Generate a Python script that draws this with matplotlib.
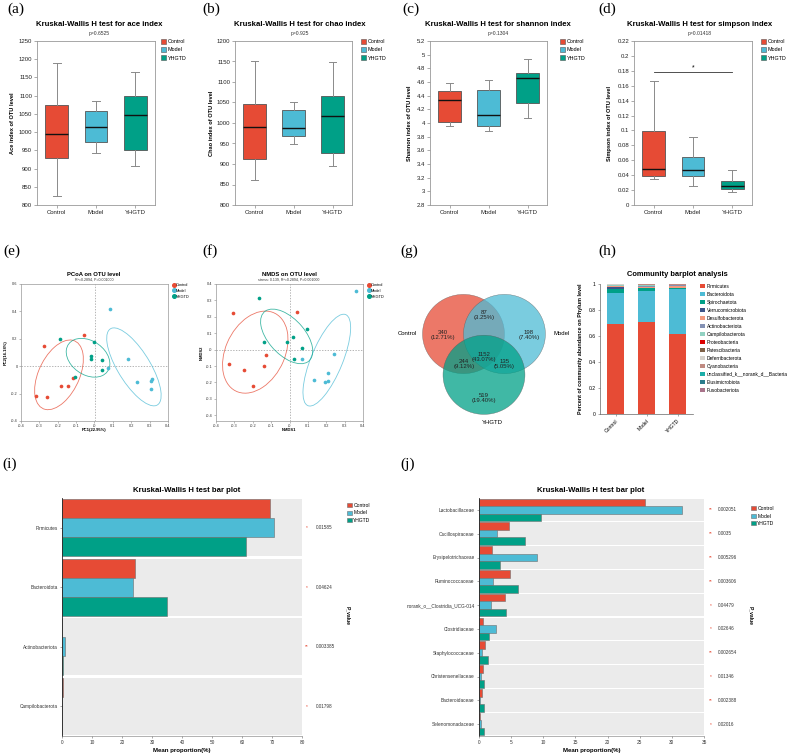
import numpy as np
import matplotlib.pyplot as plt
from matplotlib.patches import Ellipse, Patch
from matplotlib.lines import Line2D
from matplotlib.ticker import FuncFormatter

plt.rcParams['font.family'] = ['Liberation Sans', 'DejaVu Sans']

# ---------------- data ----------------
groups = ['Control', 'Model', 'YHGTD']
colors = ['#E64B35', '#4DBBD5', '#00A087']

# alpha diversity boxes: whislo, q1, median, q3, whishi
ace = [[825, 929, 994, 1074, 1190], [943, 972, 1013, 1057, 1084], [907, 950, 1046, 1098, 1165]]
chao = [[860, 912, 991, 1047, 1150], [949, 968, 987, 1031, 1052], [896, 928, 1018, 1067, 1149]]
shannon = [[3.96, 4.02, 4.34, 4.47, 4.58], [3.89, 3.96, 4.11, 4.48, 4.63], [4.08, 4.30, 4.66, 4.73, 4.93]]
simpson = [[0.0353, 0.0384, 0.0487, 0.0998, 0.167], [0.0258, 0.0389, 0.0474, 0.0649, 0.0918],
           [0.017, 0.0214, 0.0258, 0.0326, 0.0469]]
alpha_p = [0.6525, 0.925, 0.1304, 0.01418]
alpha_names = ['ace', 'chao', 'shannon', 'simpson']

# PCoA scores
pcoa_control_x = [-0.274, -0.058, -0.318, -0.256, -0.184, -0.144, -0.119]
pcoa_control_y = [0.146, 0.230, -0.215, -0.222, -0.148, -0.146, -0.086]
pcoa_model_x = [0.083, 0.184, 0.074, 0.233, 0.307, 0.314, 0.307]
pcoa_model_y = [0.420, 0.049, -0.015, -0.116, -0.111, -0.096, -0.165]
pcoa_yhgtd_x = [-0.186, -0.002, -0.018, -0.018, 0.043, 0.043, -0.108]
pcoa_yhgtd_y = [0.198, 0.175, 0.072, 0.049, 0.044, -0.030, -0.077]

# NMDS scores
nmds_control_x = [-0.306, 0.040, -0.327, -0.245, -0.128, -0.140, -0.198]
nmds_control_y = [0.226, 0.232, -0.087, -0.123, -0.034, -0.099, -0.222]
nmds_model_x = [0.363, 0.070, 0.243, 0.209, 0.133, 0.191, 0.212]
nmds_model_y = [0.356, -0.057, -0.028, -0.145, -0.188, -0.196, -0.190]
nmds_yhgtd_x = [-0.167, -0.137, -0.011, 0.018, 0.097, 0.067, 0.025]
nmds_yhgtd_y = [0.315, 0.048, 0.044, 0.075, 0.125, 0.012, -0.055]

# Venn counts: C only, M only, Y only, C&M, C&Y, M&Y, all
venn_counts = {'C': 340, 'M': 198, 'Y': 519, 'CM': 87, 'CY': 244, 'MY': 135, 'CMY': 1152}

# community barplot (phylum relative abundance)
phyla = ['Firmicutes', 'Bacteroidota', 'Spirochaetota', 'Verrucomicrobiota', 'Desulfobacterota',
         'Actinobacteriota', 'Campilobacterota', 'Proteobacteria', 'Patescibacteria', 'Deferribacterota',
         'Cyanobacteria', 'unclassified_k__norank_d__Bacteria', 'Elusimicrobiota', 'Fusobacteriota']
phylum_control = [0.690, 0.243, 0.025, 0.020, 0.007, 0.003, 0.003, 0.003, 0.002, 0.001, 0.001, 0.001, 0.0005, 0.0005]
phylum_model = [0.705, 0.238, 0.025, 0.004, 0.005, 0.011, 0.001, 0.003, 0.002, 0.002, 0.002, 0.001, 0.0005, 0.0005]
phylum_yhgtd = [0.613, 0.349, 0.005, 0.006, 0.012, 0.005, 0.0005, 0.002, 0.002, 0.001, 0.003, 0.001, 0.0005, 0.0005]
phylum_colors = ['#E64B35', '#4DBBD5', '#00A087', '#3C5488', '#F39B7F', '#8491B4', '#91D1C2', '#DC0000',
                 '#7E6148', '#D6D2CC', '#C08B82', '#1BADA8', '#2A7C8C', '#A8738A']

# Kruskal-Wallis bar plot, phylum level
kw_phyla = ['Firmicutes', 'Bacteroidota', 'Actinobacteriota', 'Campilobacterota']
kw_phyla_control = [69.2, 24.3, 0.1, 0.33]
kw_phyla_model = [70.75, 23.8, 1.1, 0.02]
kw_phyla_yhgtd = [61.3, 34.9, 0.45, 0.02]
kw_phyla_p = [0.01585, 0.04624, 0.003385, 0.01798]

# Kruskal-Wallis bar plot, family level
kw_fam = ['Lactobacillaceae', 'Oscillospiraceae', 'Erysipelotrichaceae', 'Ruminococcaceae',
          'norank_o__Clostridia_UCG-014', 'Clostridiaceae', 'Staphylococcaceae', 'Christensenellaceae',
          'Bacteroidaceae', 'Selenomonadaceae']
kw_fam_control = [25.8, 4.7, 2.0, 4.87, 4.0, 0.67, 0.98, 0.67, 0.52, 0.15]
kw_fam_model = [31.6, 2.75, 9.07, 2.18, 1.81, 2.7, 0.41, 0.26, 0.2, 0.3]
kw_fam_yhgtd = [9.6, 7.2, 3.27, 6.0, 4.25, 1.55, 1.45, 0.73, 0.83, 0.73]
kw_fam_p = [0.002051, 0.0035, 0.005296, 0.003606, 0.04479, 0.02646, 0.002654, 0.01346, 0.002388, 0.02016]

# ---------------- layout helpers ----------------
W, H = 792, 754
fig = plt.figure(figsize=(W / 100, H / 100), dpi=100)


def box(l, t, r, b):
    return [l / W, 1 - b / H, (r - l) / W, (b - t) / H]


def ftext(x, y, s, **kw):
    return fig.text(x / W, 1 - y / H, s, **kw)


gfmt = FuncFormatter(lambda v, p: '%g' % round(v, 4))

for lab, x, y in [('(a)', 7, 9), ('(b)', 202, 9), ('(c)', 402, 9), ('(d)', 598, 9),
                  ('(e)', 3, 251), ('(f)', 202, 251), ('(g)', 400, 251), ('(h)', 598, 251),
                  ('(i)', 2, 464), ('(j)', 400, 464)]:
    ftext(x, y, lab, family='Liberation Serif', fontsize=11, ha='left', va='center')


# ---------------- (a)-(d) alpha diversity ----------------
def alpha_box(rect, data, ylim, step, name, p, title_x, ylab_x, leg_x):
    ax = fig.add_axes(box(*rect))
    stats = [dict(whislo=d[0], q1=d[1], med=d[2], q3=d[3], whishi=d[4], fliers=[]) for d in data]
    bp = ax.bxp(stats, positions=range(3), widths=0.58, patch_artist=True, showfliers=False,
                capwidths=0.2,
                boxprops=dict(edgecolor='#555555', lw=0.6),
                medianprops=dict(color='#111111', lw=1.0),
                whiskerprops=dict(color='#8a8a8a', lw=0.7),
                capprops=dict(color='#8a8a8a', lw=0.7))
    for patch, c in zip(bp['boxes'], colors):
        patch.set_facecolor(c)
    ax.set_xlim(-0.5, 2.5)
    ax.set_ylim(*ylim)
    ax.set_yticks(np.arange(ylim[0], ylim[1] + step / 2, step))
    ax.yaxis.set_major_formatter(gfmt)
    ax.set_xticks(range(3))
    ax.set_xticklabels(groups)
    ax.tick_params(labelsize=4.3, length=2, width=0.5, color='#888888', pad=1.5, labelcolor='#222222')
    for s in ax.spines.values():
        s.set_color('#999999')
        s.set_linewidth(0.6)
    ftext(title_x, 25, 'Kruskal-Wallis H test for %s index' % name, fontsize=5.6, weight='bold',
          ha='center', va='center')
    ftext(title_x, 34, 'p=%s' % p, fontsize=3.6, ha='center', va='center', color='#333333')
    ftext(ylab_x, (rect[1] + rect[3]) / 2, '%s index of OTU level' % name.capitalize(), fontsize=4.1,
          weight='bold', rotation=90, ha='center', va='center')
    handles = [Patch(facecolor=c, edgecolor='#555555', lw=0.4) for c in colors]
    ax.legend(handles, groups, loc='upper left', bbox_to_anchor=(leg_x / W, 1 - 39 / H),
              bbox_transform=fig.transFigure, frameon=False, fontsize=3.9, handlelength=0.95,
              handleheight=0.95, handletextpad=0.3, labelspacing=0.55, borderaxespad=0, borderpad=0)
    return ax


alpha_box((37, 41, 155, 205), ace, (800, 1250), 50, 'ace', alpha_p[0], 99, 13, 161)
alpha_box((235, 41, 352, 205), chao, (800, 1200), 50, 'chao', alpha_p[1], 300, 211, 361)
alpha_box((430, 41, 547, 205), shannon, (2.8, 5.2), 0.2, 'shannon', alpha_p[2], 498, 410, 560)
ax_d = alpha_box((634, 41, 752, 205), simpson, (0, 0.22), 0.02, 'simpson', alpha_p[3], 700, 609, 761)
ax_d.plot([0, 2], [0.178, 0.178], color='#333333', lw=0.6)
ax_d.text(1, 0.179, '*', ha='center', va='bottom', fontsize=5)


# ---------------- (e)(f) ordination ----------------
def conf_ellipse(ax, x, y, color, scale=1.42):
    cov = np.cov(x, y)
    vals, vecs = np.linalg.eigh(cov)
    order = vals.argsort()[::-1]
    vals, vecs = vals[order], vecs[:, order]
    angle = np.degrees(np.arctan2(vecs[1, 0], vecs[0, 0]))
    w, h = 2 * scale * np.sqrt(vals)
    ax.add_patch(Ellipse((np.mean(x), np.mean(y)), w, h, angle=angle, fill=False, ec=color,
                         lw=0.6, alpha=0.75))


def ordination(rect, pts, ylim, ystep, title, sub, xlabel, ylabel, cx, leg_x, ylab_x):
    ax = fig.add_axes(box(*rect))
    ax.axhline(0, color='#999999', lw=0.5, ls=(0, (2, 2)), zorder=0)
    ax.axvline(0, color='#999999', lw=0.5, ls=(0, (2, 2)), zorder=0)
    for (x, y), c in zip(pts, colors):
        ax.scatter(x, y, s=7, color=c, lw=0, zorder=3)
        conf_ellipse(ax, x, y, c)
    ax.set_xlim(-0.4, 0.4)
    ax.set_xticks(np.arange(-0.4, 0.41, 0.1))
    ax.set_yticks(np.arange(-0.4, 0.61, ystep))
    ax.set_ylim(*ylim)
    ax.xaxis.set_major_formatter(gfmt)
    ax.yaxis.set_major_formatter(gfmt)
    ax.tick_params(labelsize=2.8, length=1.5, width=0.4, color='#888888', pad=1, labelcolor='#333333')
    for s in ax.spines.values():
        s.set_color('#999999')
        s.set_linewidth(0.5)
    ftext(cx, 274, title, fontsize=4.2, weight='bold', ha='center', va='center')
    ftext(cx, 280, sub, fontsize=2.6, ha='center', va='center', color='#333333')
    ftext(cx, 430, xlabel, fontsize=3.0, weight='bold', ha='center', va='center')
    ftext(ylab_x, (rect[1] + rect[3]) / 2, ylabel, fontsize=3.0, weight='bold', rotation=90,
          ha='center', va='center')
    handles = [Line2D([], [], marker='o', ls='', color=c, markersize=2.6) for c in colors]
    ax.legend(handles, groups, loc='upper left', bbox_to_anchor=(leg_x / W, 1 - 283 / H),
              bbox_transform=fig.transFigure, frameon=False, fontsize=2.8, handlelength=0.8,
              handletextpad=0.2, labelspacing=0.45, borderaxespad=0, borderpad=0)


ordination((21, 284, 168, 421),
           [(pcoa_control_x, pcoa_control_y), (pcoa_model_x, pcoa_model_y), (pcoa_yhgtd_x, pcoa_yhgtd_y)],
           (-0.4, 0.6), 0.2, 'PCoA on OTU level', 'R\u00b2=0.2894, P=0.001000',
           'PC1(22.95%)', 'PC2(16.18%)', 94, 172, 6)
ordination((216, 284, 363, 421),
           [(nmds_control_x, nmds_control_y), (nmds_model_x, nmds_model_y), (nmds_yhgtd_x, nmds_yhgtd_y)],
           (-0.435, 0.4), 0.1, 'NMDS on OTU level', 'stress: 0.139, R\u00b2=0.2894, P=0.001000',
           'NMDS1', 'NMDS2', 289, 367, 202)

# ---------------- (g) Venn ----------------
ax_g = fig.add_axes(box(400, 280, 570, 430))
ax_g.set_xlim(-2.05, 2.10)
ax_g.set_ylim(-1.9, 1.85)
ax_g.axis('off')
centers = [(-0.5, 0.5), (0.5, 0.5), (0.0, -0.52)]
for (cx, cy), c in zip(centers, colors):
    ax_g.add_patch(Ellipse((cx, cy), 2.0, 1.98, fc=c, ec='#555555', lw=0.3, alpha=0.75))
total = sum(venn_counts.values())
venn_pos = {'C': (-1.0, 0.48), 'M': (1.1, 0.48), 'Y': (0.0, -1.1), 'CM': (0.0, 0.98),
            'CY': (-0.49, -0.25), 'MY': (0.49, -0.25), 'CMY': (0.0, -0.08)}
for k, (x, y) in venn_pos.items():
    n = venn_counts[k]
    ax_g.text(x, y, '%d\n(%.2f%%)' % (n, 100 * n / total), ha='center', va='center', fontsize=4.3,
              linespacing=0.95, color='#222222')
ax_g.text(-1.88, 0.52, 'Control', ha='center', va='center', fontsize=4.3)
ax_g.text(1.9, 0.52, 'Model', ha='center', va='center', fontsize=4.3)
ax_g.text(0.2, -1.7, 'YHGTD', ha='center', va='center', fontsize=4.3)

# ---------------- (h) community barplot ----------------
ax_h = fig.add_axes(box(600, 284, 693, 414))
comp = np.array([phylum_control, phylum_model, phylum_yhgtd])
bottom = np.zeros(3)
for k, name in enumerate(phyla):
    ax_h.bar(range(3), comp[:, k], bottom=bottom, width=0.52, color=phylum_colors[k], label=name)
    bottom += comp[:, k]
ax_h.set_xlim(-0.5, 2.5)
ax_h.set_ylim(0, 1)
ax_h.set_yticks(np.arange(0, 1.01, 0.2))
ax_h.yaxis.set_major_formatter(gfmt)
ax_h.set_xticks(range(3))
ax_h.set_xticklabels(groups, rotation=45, ha='right', rotation_mode='anchor')
ax_h.tick_params(labelsize=3.6, length=1.5, width=0.4, color='#666666', pad=1.5)
for s in ['top', 'right']:
    ax_h.spines[s].set_visible(False)
for s in ['left', 'bottom']:
    ax_h.spines[s].set_color('#666666')
    ax_h.spines[s].set_linewidth(0.5)
ax_h.set_ylabel('Percent of community abundance on Phylum level', fontsize=3.9, weight='bold',
                labelpad=4)
ftext(677, 275, 'Community barplot analysis', fontsize=5.4, weight='bold', ha='center', va='center')
ax_h.legend(loc='upper left', bbox_to_anchor=(700 / W, 1 - 283.5 / H), bbox_transform=fig.transFigure,
            frameon=False, fontsize=3.5, handlelength=1.0, handleheight=0.9, handletextpad=0.4,
            labelspacing=0.62, borderaxespad=0, borderpad=0)


# ---------------- (i)(j) Kruskal-Wallis bar plots ----------------
def kw_bar(rect, names, vals, pvals, xmax, step, title_x, star_x, text_x, leg_x, leg_y, pv_x):
    ax = fig.add_axes(box(*rect))
    n = len(names)
    pos = np.arange(n)
    band = 0.95
    for i in pos:
        ax.axhspan(i - band / 2, i + band / 2, color='#EBEBEB', lw=0, zorder=0)
    bh = band / 3
    for k, g in enumerate(groups):
        ax.barh(pos + (k - 1) * bh, vals[k], height=bh, color=colors[k], edgecolor='#6e6e6e',
                lw=0.4, zorder=2, label=g)
    ax.set_xlim(0, xmax)
    ax.set_ylim(n - 0.5, -0.5)
    ax.set_yticks(pos)
    ax.set_yticklabels(names)
    ax.set_xticks(np.arange(0, xmax + 0.1, step))
    ax.tick_params(axis='y', labelsize=3.4, length=1.2, width=0.4, pad=2, color='#666666',
                   labelcolor='#333333')
    ax.tick_params(axis='x', labelsize=3.4, length=1.5, width=0.4, pad=1.5, color='#666666',
                   labelcolor='#333333')
    for s in ['top', 'right']:
        ax.spines[s].set_visible(False)
    ax.spines['left'].set_color('#222222')
    ax.spines['left'].set_linewidth(0.6)
    ax.spines['bottom'].set_color('#777777')
    ax.spines['bottom'].set_linewidth(0.4)
    ax.set_xlabel('Mean proportion(%)', fontsize=4.4, weight='bold', labelpad=2)
    ftext(title_x, 491, 'Kruskal-Wallis H test bar plot', fontsize=5.6, weight='bold', ha='center',
          va='center')
    tr = ax.get_yaxis_transform()
    sx = (star_x - rect[0]) / (rect[2] - rect[0])
    tx = (text_x - rect[0]) / (rect[2] - rect[0])
    for i, p in zip(pos, pvals):
        ax.text(sx, i, '**' if p < 0.01 else '*', transform=tr, color='#E64B35', fontsize=3.4,
                ha='center', va='center', clip_on=False)
        ax.text(tx, i, '%g' % p, transform=tr, fontsize=3.3, ha='left', va='center', clip_on=False,
                color='#333333')
    ax.legend(loc='upper left', bbox_to_anchor=(leg_x / W, 1 - leg_y / H), bbox_transform=fig.transFigure,
              frameon=False, fontsize=3.6, handlelength=0.95, handleheight=0.95, handletextpad=0.3,
              labelspacing=0.5, borderaxespad=0, borderpad=0)
    ftext(pv_x, (rect[1] + rect[3]) / 2 - 1, 'P_value', fontsize=3.6, weight='bold', rotation=270,
          ha='center', va='center')


kw_bar((62, 498, 302, 736), kw_phyla, [kw_phyla_control, kw_phyla_model, kw_phyla_yhgtd], kw_phyla_p,
       80, 10, 187, 307, 316, 347, 503, 348)
kw_bar((479, 498, 704, 736), kw_fam, [kw_fam_control, kw_fam_model, kw_fam_yhgtd], kw_fam_p,
       35, 5, 591, 711, 718, 751, 506, 751)

fig.savefig('out.png', dpi=100)
